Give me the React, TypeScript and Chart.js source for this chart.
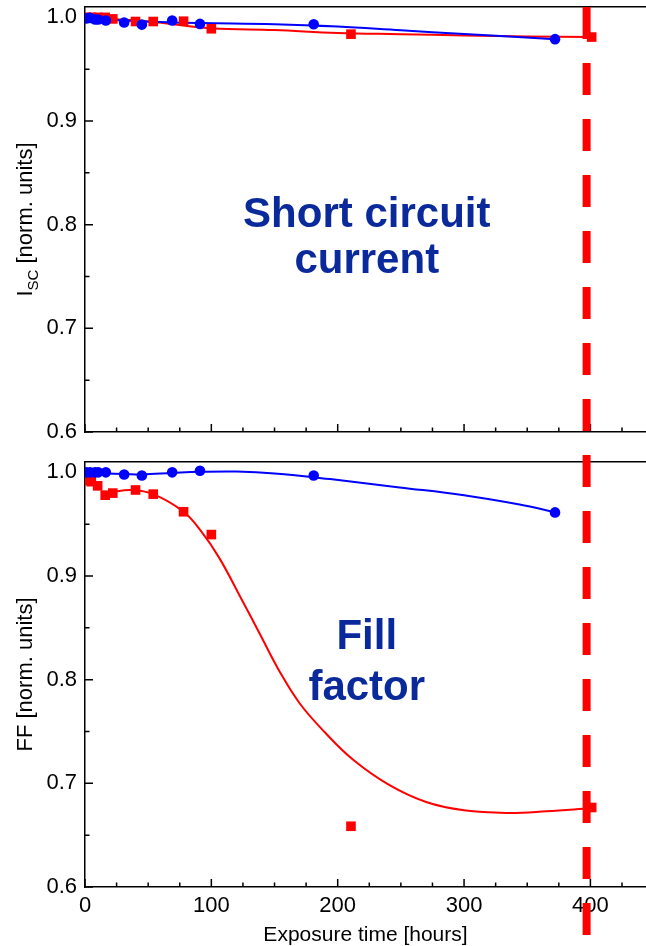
import React, { useEffect, useRef } from "react";
import { Chart, registerables } from "chart.js";

Chart.register(...registerables);

const FONT = '"Liberation Sans", Arial, Helvetica, sans-serif';
const BLUE = "#0000ff";
const RED = "#ff0000";
const NAVY = "#0a2a9c";

// axes
const X_MAX = 444;
const Y_MIN = 0.6;
const Y_MAX = 1.01;
const X_MAJOR = [0, 100, 200, 300, 400];
const X_MINOR = [25, 50, 75, 125, 150, 175, 225, 250, 275, 325, 350, 375, 425];
const Y_MAJOR = [0.6, 0.7, 0.8, 0.9, 1.0];
const Y_MINOR = [0.65, 0.75, 0.85, 0.95];

// measured points (exposure time, hours)
const blueTimes = [1, 4, 8, 10.5, 16.5, 31, 45, 69, 91, 181, 372];
const redTimes = [1, 5, 10, 16, 22, 40, 54, 78, 100, 210.5, 401];

// short circuit current (normalised)
const iscBlue = [0.999, 0.9995, 0.998, 0.998, 0.997, 0.995, 0.993, 0.997, 0.9937, 0.9934, 0.979];
const iscRed = [1.0, 1.0, 1.0, 1.0, 0.9985, 0.996, 0.996, 0.9963, 0.989, 0.9838, 0.981];

// fill factor (normalised)
const ffBlue = [1.0, 1.0, 1.0, 1.0, 1.0, 0.998, 0.997, 1.0, 1.0016, 0.997, 0.9614];
const ffRed = [0.992, 0.991, 0.987, 0.978, 0.98, 0.983, 0.979, 0.962, 0.94, 0.6586, 0.6767];

// fitted guide curves
const iscBlueFitT = [0, 30, 60, 91, 150, 200, 250, 300, 372];
const iscBlueFitV = [0.9998, 0.997, 0.9955, 0.9945, 0.9934, 0.9911, 0.9875, 0.984, 0.979];
const iscRedFitT = [0, 50, 100, 150, 200, 250, 300, 350, 400];
const iscRedFitV = [1.0, 0.996, 0.9895, 0.9877, 0.985, 0.9838, 0.9826, 0.9815, 0.981];

const ffBlueFitT = [1, 31, 45, 70, 91, 120, 150, 194, 249, 300, 344, 372];
const ffBlueFitV = [0.9995, 0.9985, 0.998, 0.9995, 1.0005, 1.0008, 0.999, 0.9935, 0.9855, 0.978, 0.969, 0.9615];
const ffRedFitT = [16, 22, 37, 54, 78, 92, 106, 122, 138, 154, 170, 190, 212, 240, 270, 300, 334, 365, 400];
const ffRedFitV = [0.979, 0.981, 0.983, 0.979, 0.962, 0.943, 0.918, 0.882, 0.845, 0.808, 0.777, 0.749, 0.723, 0.699, 0.682, 0.674, 0.6715, 0.673, 0.676];

// vertical dashed marker (lifetime line)
const lifetimeT = [397, 397];
const iscDashV = [1.01, 0.58];
const ffDashV = [1.0167, 0.5538];

const iscLabel = ["Short circuit", "current"];
const ffLabel = ["Fill", "factor"];

const pts = (xs: number[], ys: number[]) => xs.map((x, i) => ({ x, y: ys[i] }));

const frameTicks = {
  id: "frameTicks",
  beforeDatasetsDraw(chart: any) {
    const { ctx, chartArea } = chart;
    const xs = chart.scales.x;
    const ys = chart.scales.y;
    ctx.save();
    ctx.strokeStyle = "#000";
    ctx.lineWidth = 1.5;
    ctx.beginPath();
    const dx = (v: number, len: number) => {
      const p = xs.getPixelForValue(v);
      ctx.moveTo(p, chartArea.bottom);
      ctx.lineTo(p, chartArea.bottom - len);
    };
    const dy = (v: number, len: number) => {
      const p = ys.getPixelForValue(v);
      ctx.moveTo(chartArea.left, p);
      ctx.lineTo(chartArea.left + len, p);
    };
    X_MAJOR.forEach((v) => dx(v, 8));
    X_MINOR.forEach((v) => dx(v, 4.5));
    Y_MAJOR.forEach((v) => dy(v, 8));
    Y_MINOR.forEach((v) => dy(v, 4.5));
    ctx.stroke();
    ctx.restore();
  },
};

type Part = { text: string; size: number; shift: number };

function yTitlePlugin(parts: Part[]) {
  return {
    id: "yTitle",
    afterDraw(chart: any) {
      const { ctx, chartArea } = chart;
      const cy = (chartArea.top + chartArea.bottom) / 2;
      ctx.save();
      ctx.translate(31.5, cy);
      ctx.rotate(-Math.PI / 2);
      ctx.fillStyle = "#000";
      ctx.textBaseline = "alphabetic";
      ctx.textAlign = "left";
      let total = 0;
      const widths = parts.map((p) => {
        ctx.font = `${p.size}px ${FONT}`;
        const w = ctx.measureText(p.text).width;
        total += w;
        return w;
      });
      let x = -total / 2;
      parts.forEach((p, i) => {
        ctx.font = `${p.size}px ${FONT}`;
        ctx.fillText(p.text, x, p.shift);
        x += widths[i];
      });
      ctx.restore();
    },
  };
}

function labelPlugin(lines: string[], xVal: number, yVals: number[]) {
  return {
    id: "panelLabel",
    afterDatasetsDraw(chart: any) {
      const { ctx } = chart;
      const xs = chart.scales.x;
      const ys = chart.scales.y;
      ctx.save();
      ctx.fillStyle = NAVY;
      ctx.font = `bold 42px ${FONT}`;
      ctx.textAlign = "center";
      ctx.textBaseline = "alphabetic";
      lines.forEach((t, i) => {
        ctx.fillText(t, xs.getPixelForValue(xVal), ys.getPixelForValue(yVals[i]));
      });
      ctx.restore();
    },
  };
}

function panelConfig(p: any) {
  return {
    type: "line",
    data: {
      datasets: [
        {
          data: pts(blueTimes, p.blueV),
          showLine: false,
          pointStyle: "circle",
          pointRadius: 5.3,
          pointBackgroundColor: BLUE,
          pointBorderColor: BLUE,
          pointBorderWidth: 0,
          order: 0,
        },
        {
          data: pts(redTimes, p.redV),
          showLine: false,
          pointStyle: "rect",
          pointRadius: 6.8,
          pointBackgroundColor: RED,
          pointBorderColor: RED,
          pointBorderWidth: 0,
          order: 1,
        },
        {
          data: pts(p.blueFitT, p.blueFitV),
          showLine: true,
          pointRadius: 0,
          borderColor: BLUE,
          borderWidth: 2,
          tension: 0.4,
          fill: false,
          order: 2,
        },
        {
          data: pts(p.redFitT, p.redFitV),
          showLine: true,
          pointRadius: 0,
          borderColor: RED,
          borderWidth: 2,
          tension: 0.4,
          fill: false,
          order: 3,
        },
        {
          data: pts(lifetimeT, p.dashV),
          showLine: true,
          pointRadius: 0,
          borderColor: RED,
          borderWidth: 8,
          borderDash: [32, 24],
          borderCapStyle: "butt",
          tension: 0,
          fill: false,
          clip: false,
          order: 4,
        },
      ],
    },
    options: {
      responsive: false,
      animation: false,
      devicePixelRatio: 1,
      events: [],
      layout: {
        autoPadding: false,
        padding: { top: p.padTop, left: 0, right: 0, bottom: 0 },
      },
      plugins: { legend: { display: false }, tooltip: { enabled: false } },
      scales: {
        x: {
          type: "linear",
          position: "bottom",
          min: 0,
          max: X_MAX,
          grid: { display: false, drawTicks: false },
          border: { display: true, color: "#000", width: 1.5 },
          ticks: {
            display: p.showX,
            color: "#000",
            font: { size: 22, family: FONT },
            padding: 6,
            autoSkip: false,
            maxRotation: 0,
            callback: (v: any) => String(v),
          },
          title: {
            display: p.showX,
            text: "Exposure time [hours]",
            color: "#000",
            font: { size: 21, family: FONT, lineHeight: 1 },
            padding: { top: 0, bottom: 0 },
          },
          afterBuildTicks: (s: any) => {
            s.ticks = X_MAJOR.map((v) => ({ value: v }));
          },
          afterFit: (s: any) => {
            s.height = p.xAxisH;
            s.paddingLeft = 0;
            s.paddingRight = 0;
          },
        },
        xTop: {
          type: "linear",
          position: "top",
          min: 0,
          max: X_MAX,
          grid: { display: false, drawTicks: false },
          border: { display: true, color: "#000", width: 1.5 },
          ticks: { display: false },
          afterFit: (s: any) => {
            s.height = 0;
            s.paddingLeft = 0;
            s.paddingRight = 0;
          },
        },
        y: {
          type: "linear",
          position: "left",
          min: Y_MIN,
          max: Y_MAX,
          grid: { display: false, drawTicks: false },
          border: { display: true, color: "#000", width: 1.5 },
          ticks: {
            color: "#000",
            font: { size: 22, family: FONT },
            padding: 8,
            callback: (v: any) => Number(v).toFixed(1),
          },
          afterBuildTicks: (s: any) => {
            s.ticks = Y_MAJOR.map((v) => ({ value: v }));
          },
          afterFit: (s: any) => {
            s.width = 85;
            s.paddingTop = 0;
            s.paddingBottom = 0;
          },
        },
      },
    },
    plugins: [frameTicks, yTitlePlugin(p.yTitle), labelPlugin(p.label, 223, p.labelY)],
  };
}

export default function App() {
  const topRef = useRef<HTMLCanvasElement | null>(null);
  const botRef = useRef<HTMLCanvasElement | null>(null);

  useEffect(() => {
    Chart.defaults.font.family = FONT;
    Chart.defaults.color = "#000";
    const top = new Chart(
      topRef.current as HTMLCanvasElement,
      panelConfig({
        blueV: iscBlue,
        redV: iscRed,
        blueFitT: iscBlueFitT,
        blueFitV: iscBlueFitV,
        redFitT: iscRedFitT,
        redFitV: iscRedFitV,
        dashV: iscDashV,
        showX: false,
        padTop: 7,
        xAxisH: 14,
        yTitle: [
          { text: "I", size: 22, shift: 0 },
          { text: "SC", size: 15, shift: 6 },
          { text: " [norm. units]", size: 22, shift: 0 },
        ],
        label: iscLabel,
        labelY: [0.798, 0.753],
      }) as any
    );
    const bot = new Chart(
      botRef.current as HTMLCanvasElement,
      panelConfig({
        blueV: ffBlue,
        redV: ffRed,
        blueFitT: ffBlueFitT,
        blueFitV: ffBlueFitV,
        redFitT: ffRedFitT,
        redFitV: ffRedFitV,
        dashV: ffDashV,
        showX: true,
        padTop: 16,
        xAxisH: 59,
        yTitle: [{ text: "FF [norm. units]", size: 22, shift: 0 }],
        label: ffLabel,
        labelY: [0.83, 0.78],
      }) as any
    );
    return () => {
      top.destroy();
      bot.destroy();
    };
  }, []);

  return (
    <div
      style={{
        position: "absolute",
        left: 0,
        top: 0,
        width: 646,
        height: 946,
        background: "#fff",
        overflow: "hidden",
      }}
    >
      <canvas
        ref={topRef}
        width={646}
        height={446}
        style={{ position: "absolute", left: 0, top: 0, width: 646, height: 446 }}
      />
      <canvas
        ref={botRef}
        width={646}
        height={500}
        style={{ position: "absolute", left: 0, top: 446, width: 646, height: 500 }}
      />
    </div>
  );
}
